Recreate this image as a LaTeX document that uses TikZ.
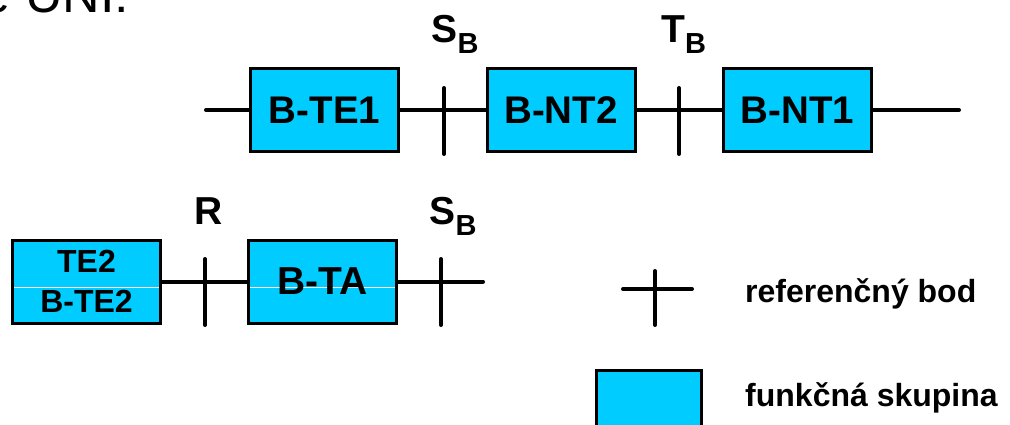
\documentclass[tikz,border=0pt]{standalone}
\usepackage{fontspec}
\setmainfont{Liberation Sans}
\definecolor{fgcyan}{HTML}{00CCFF}
\newcommand{\refsub}[1]{{\fontsize{39}{39}\selectfont #1\raisebox{-11pt}{\fontsize{29}{29}\selectfont B}}}
\begin{document}
\begin{tikzpicture}[x=1pt,y=-1pt,
  fbox/.style={draw=black, line width=3pt, fill=fgcyan, minimum width=148pt,
    minimum height=83pt, inner sep=0pt, font=\fontsize{38.5}{40}\selectfont\bfseries},
  splitl/.style={path picture={\draw[white, line width=1pt]
    ([yshift=-5.5pt]path picture bounding box.west) -- ([yshift=-5.5pt]path picture bounding box.east);}},
  conn/.style={line width=4pt, line cap=round},
  tick/.style={line width=4pt, line cap=round},
  lab/.style={inner sep=0pt, anchor=base west, font=\bfseries}]
\useasboundingbox (0,0) rectangle (1010,425);

% cut-off heading
\node[inner sep=0pt, anchor=base west, font=\fontsize{52}{52}\selectfont] (uni) at (-18.5,13) {e UNI:};

% top row
\node[fbox] (te1) at (324.5,110) {B-TE1};
\node[fbox] (nt2) at (561,110) {B-NT2};
\node[fbox] (nt1) at (797.5,110) {B-NT1};
\coordinate (tl) at (206,110);
\coordinate (tr) at (959,110);
\draw[conn] (tl) -- (te1.west);
\draw[conn] (te1.east) -- (nt2.west);
\draw[conn] (nt2.east) -- (nt1.west);
\draw[conn] (nt1.east) -- (tr);
\draw[tick] (444,88) -- (444,154);
\draw[tick] (679,88) -- (679,154);
\node[lab] (sb1) at (431.5,43) {\refsub{S}};
\node[lab] (tb) at (661,43) {\refsub{T}};

% bottom row
\node[fbox, splitl, align=center, font=\fontsize{32}{40}\selectfont\bfseries] (te2) at (86.5,281.5) {TE2\\B-TE2};
\node[fbox, splitl, font=\fontsize{39}{40}\selectfont\bfseries] (ta) at (322.5,281.5) {B-TA};
\coordinate (br) at (483,281.5);
\draw[conn] (te2.east) -- (ta.west);
\draw[conn] (ta.east) -- (br);
\draw[tick] (205,259) -- (205,325);
\draw[tick] (441,259) -- (441,325);
\node[lab] (r) at (194,225) {\fontsize{39}{39}\selectfont R};
\node[lab] (sb2) at (429.5,225) {\refsub{S}};

% legend
\draw[tick] (623,289) -- (692,289);
\draw[tick] (655,271) -- (655,325);
\node[lab, font=\fontsize{32}{32}\selectfont\bfseries] (l1) at (745,302) {referenčný bod};
\node[fbox, minimum width=105pt, minimum height=100pt, anchor=north west] (lb) at (594.5,368.5) {};
\node[lab, font=\fontsize{32}{32}\selectfont\bfseries] (l2) at (745,406) {funkčná skupina};
\end{tikzpicture}
\end{document}
